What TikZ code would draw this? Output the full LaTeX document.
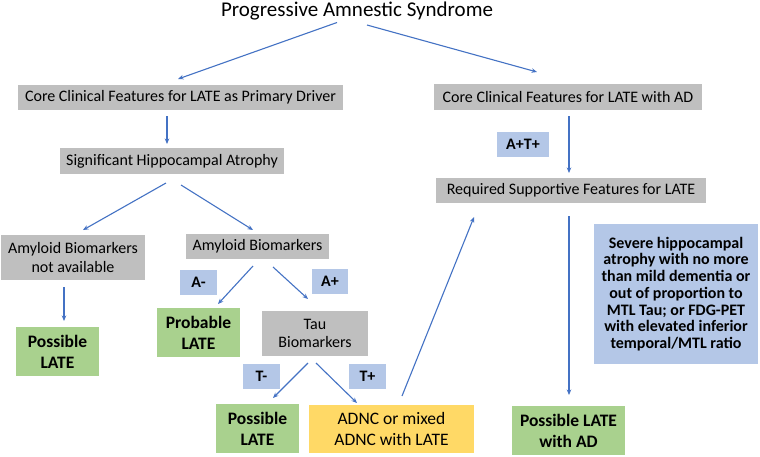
\documentclass[tikz,border=0pt]{standalone}
\usepackage{fontspec}
\setmainfont{Carlito}
\usetikzlibrary{arrows.meta}
\definecolor{gbox}{HTML}{BFBFBF}
\definecolor{bbox}{HTML}{B4C7E7}
\definecolor{grbox}{HTML}{A9D18E}
\definecolor{ybox}{HTML}{FFD966}
\definecolor{arrc}{HTML}{4472C4}
\tikzset{
  base/.style={inner sep=0pt, outer sep=0pt, align=center, text=black},
  graybox/.style={base, fill=gbox, font=\fontsize{16}{18.5}\selectfont},
  lab/.style={base, fill=bbox, font=\fontsize{16}{16.7}\selectfont\bfseries},
  res/.style={base, fill=grbox, font=\fontsize{17.5}{21}\selectfont\bfseries},
  adncbox/.style={base, fill=ybox, font=\fontsize{17.5}{20.5}\selectfont},
  arr/.style={draw=arrc, line width=1.1pt, -{Stealth[length=5.5pt,width=4.5pt]}},
}
\newcommand{\bx}[7]{%
  \node[#1, minimum width={#4-#3}, minimum height={#6-#5}] (#2) at ({(#3+#4)/2},{(#5+#6)/2}) {#7};}
\begin{document}
\begin{tikzpicture}[x=1pt,y=-1pt]
\useasboundingbox (0,0) rectangle (760,456);
\fill[white] (0,0) rectangle (760,456);
\node[base, font=\fontsize{21}{24}\selectfont, minimum width=272, minimum height=22] (title) at (357,11.5) {Progressive Amnestic Syndrome};
\bx{graybox}{core1}{18}{343}{85}{110}{Core Clinical Features for LATE as Primary Driver}
\bx{graybox}{core2}{434}{702}{84}{110}{Core Clinical Features for LATE with AD}
\bx{graybox}{sig}{60}{284}{148}{174}{Significant Hippocampal Atrophy}
\bx{graybox}{abna}{1}{145}{235}{280}{Amyloid Biomarkers\\not available}
\bx{graybox}{ab}{186}{329}{234}{259}{Amyloid Biomarkers}
\bx{res}{posA}{16}{99}{327}{376}{Possible\\LATE}
\bx{res}{prob}{157}{240}{308}{357}{Probable\\LATE}
\bx{graybox}{tau}{262}{368}{311}{356}{Tau\\Biomarkers}
\bx{lab}{labAm}{180}{217}{270}{295}{A-}
\bx{lab}{labAp}{312}{348}{269}{294}{A+}
\bx{lab}{labTm}{243}{280}{364}{389}{T-}
\bx{lab}{labTp}{349}{386}{364}{389}{T+}
\bx{res}{posB}{216}{299}{404}{453}{Possible\\LATE}
\bx{adncbox}{adnc}{309}{474}{405}{453}{ADNC or mixed\\ADNC with LATE}
\bx{lab}{labAT}{497}{549}{132}{157}{A+T+}
\bx{graybox}{req}{436}{706}{178}{203}{Required Supportive Features for LATE}
\bx{lab}{blue}{594}{758}{224}{364}{Severe hippocampal\\atrophy with no more\\than mild dementia or\\out of proportion to\\MTL Tau; or FDG-PET\\with elevated inferior\\temporal/MTL ratio}
\bx{res}{posC}{512}{625}{406}{455}{Possible LATE\\with AD}

\draw[arr] ([xshift=-20pt]title.south) -- ([xshift=-2.5pt,yshift=6pt]core1.north);
\draw[arr] ([xshift=10pt,yshift=-2.5pt]title.south) -- ([xshift=-31pt,yshift=12pt]core2.north);
\draw[arr] ([xshift=-13.5pt,yshift=-6pt]core1.south) -- ([xshift=-5pt,yshift=4pt]sig.north);
\draw[arr] ([xshift=-6pt,yshift=-9pt]sig.south) -- ([xshift=10pt,yshift=5pt]abna.north);
\draw[arr] ([xshift=9pt,yshift=-11pt]sig.south) -- ([xshift=-4.5pt,yshift=4pt]ab.north);
\draw[arr] ([xshift=-9pt,yshift=-7pt]abna.south) -- ([xshift=6.5pt,yshift=6pt]posA.north);
\draw[arr] ([xshift=-4.5pt,yshift=-7pt]ab.south) -- ([xshift=19.5pt,yshift=4pt]prob.north);
\draw[arr] ([xshift=15.5pt,yshift=-8pt]ab.south) -- ([xshift=-7pt,yshift=12pt]tau.north);
\draw[arr] ([xshift=-7pt,yshift=-7pt]tau.south) -- ([xshift=15.5pt,yshift=6pt]posB.north);
\draw[arr] ([xshift=1pt,yshift=-7pt]tau.south) -- ([xshift=-34.5pt,yshift=2pt]adnc.north);
\draw[arr] ([xshift=10.5pt,yshift=9pt]adnc.north) -- ([xshift=-97pt,yshift=-14pt]req.south);
\draw[arr] ([xshift=1pt,yshift=-6pt]core2.south) -- ([xshift=-2pt,yshift=5pt]req.north);
\draw[arr] ([xshift=-2pt,yshift=-13pt]req.south) -- ([xshift=0.5pt,yshift=11pt]posC.north);
\end{tikzpicture}
\end{document}
